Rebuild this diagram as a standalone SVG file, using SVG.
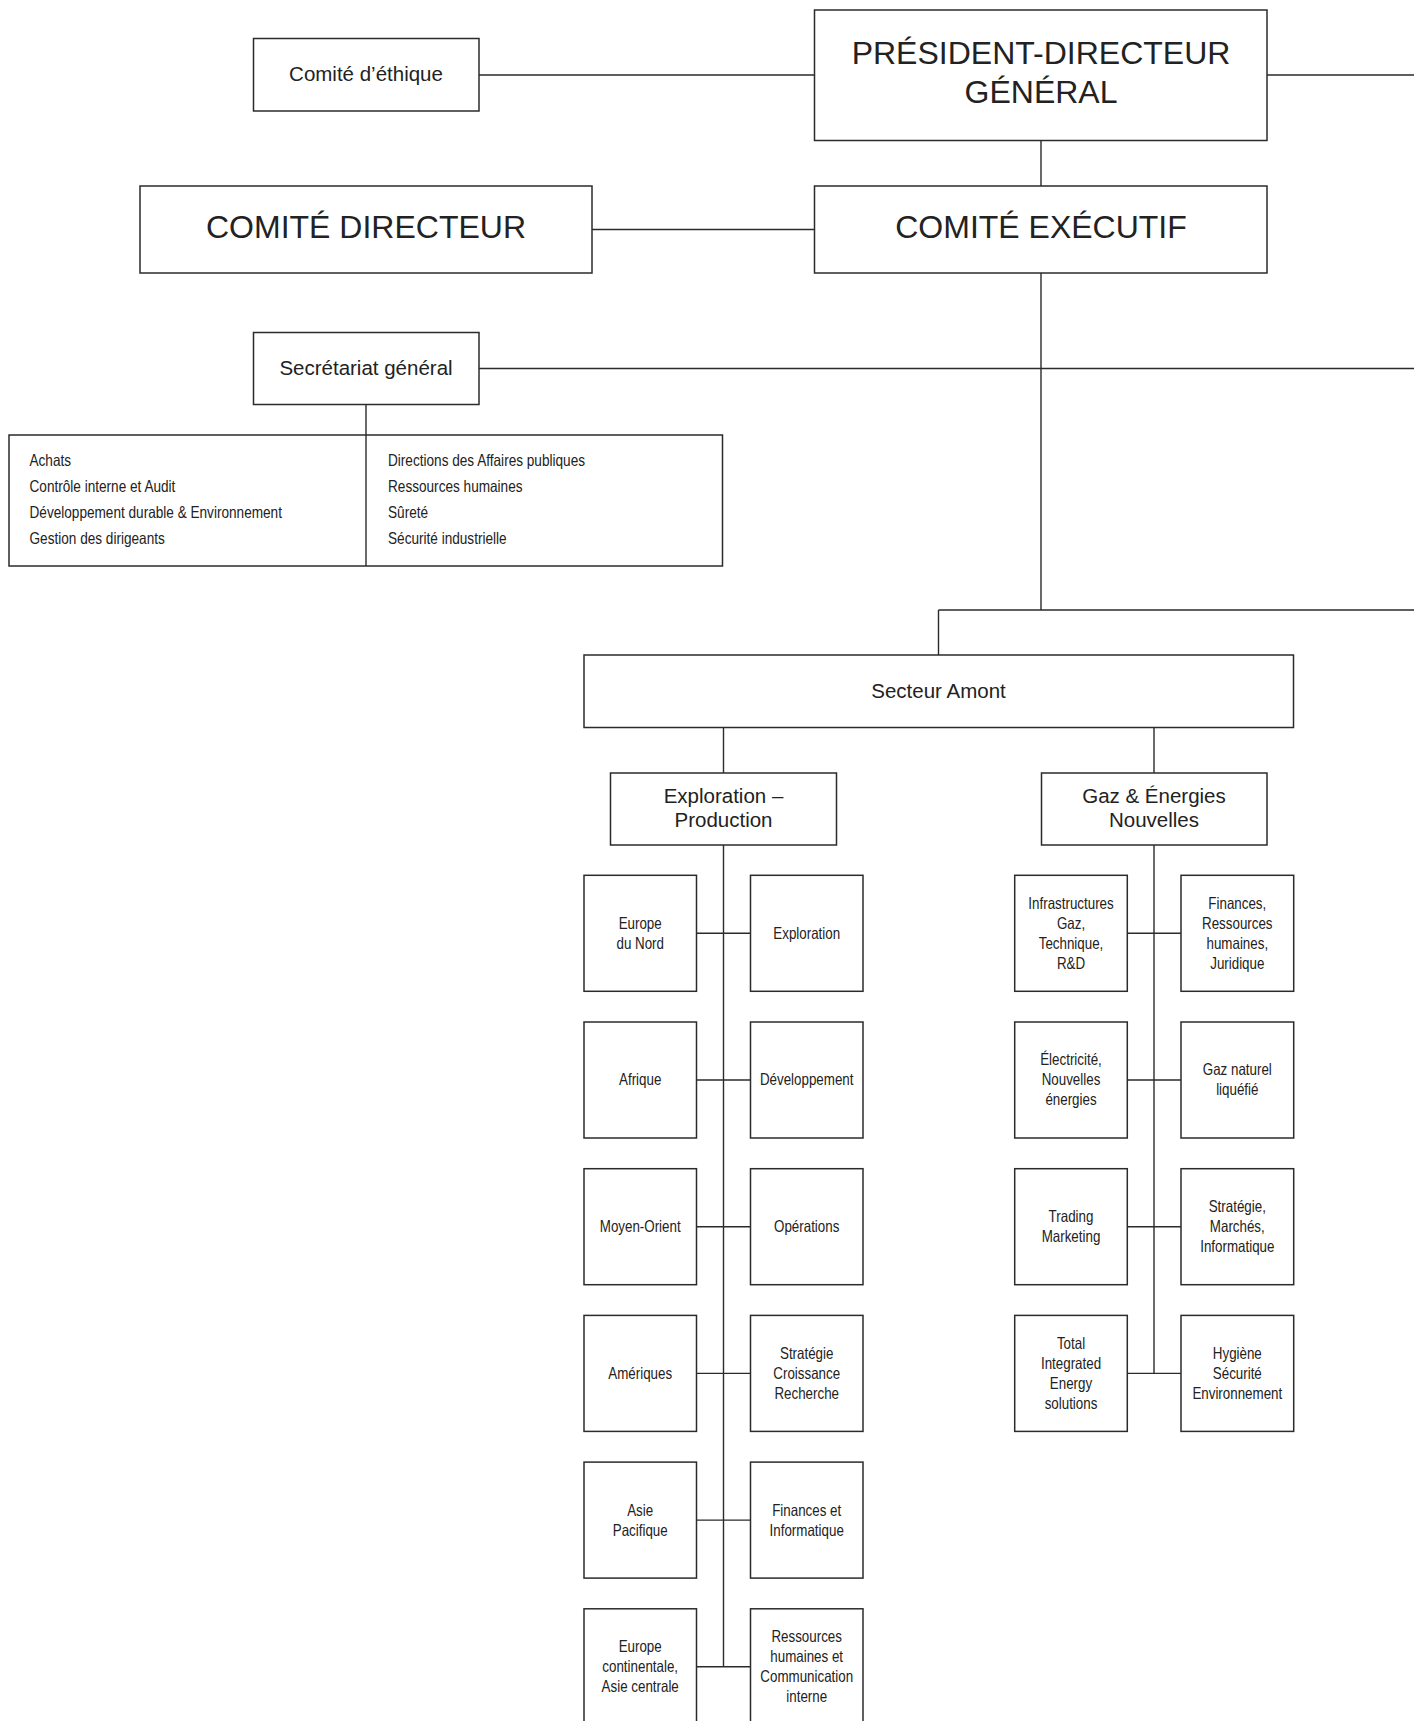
<svg xmlns="http://www.w3.org/2000/svg" width="1414" height="1721" viewBox="0 0 1414 1721">
<style>
.box{fill:#fff;stroke:#2b2b2b;stroke-width:1.5}
.ln{fill:none;stroke:#2b2b2b;stroke-width:1.4}
.t{font-family:"Liberation Sans",Arial,sans-serif;fill:#222;text-anchor:middle}
.big{font-size:32px}
.mid{font-size:20.5px}
.sm{font-family:"Liberation Sans",Arial,sans-serif;font-size:16.3px;fill:#222;text-anchor:middle}
.lst{font-family:"Liberation Sans",Arial,sans-serif;font-size:16.3px;fill:#222;text-anchor:start}
</style>
<rect x="0" y="0" width="1414" height="1721" fill="#fff"/>
<g id="connectors">
<path class="ln" d="M479 75H814.5M1267 75H1414M1041 140.5V186M592 229.5H814.5M1041 273V610M479 368.5H1414M366 404.5V566M938.5 610H1414M938.5 610V655M723.5 727.5V773M1154 727.5V773"/>
<path class="ln" d="M723.5 845V1666.8M696.5 933.3H750.5M696.5 1080H750.5M696.5 1226.7H750.5M696.5 1373.4H750.5M696.5 1520.1H750.5M696.5 1666.8H750.5"/>
<path class="ln" d="M1154 845V1373.4M1127.3 933.3H1181M1127.3 1080H1181M1127.3 1226.7H1181M1127.3 1373.4H1181"/>
</g>
<g id="pdg"><rect class="box" x="814.5" y="10" width="452.5" height="130.5"/><text class="t big" x="1041" y="63.5">PRÉSIDENT-DIRECTEUR</text><text class="t big" x="1041" y="103">GÉNÉRAL</text></g>
<g id="comite-executif"><rect class="box" x="814.5" y="186" width="452.5" height="87"/><text class="t big" x="1041" y="238">COMITÉ EXÉCUTIF</text></g>
<g id="comite-directeur"><rect class="box" x="140" y="186" width="452" height="87"/><text class="t big" x="366" y="238">COMITÉ DIRECTEUR</text></g>
<g id="comite-ethique"><rect class="box" x="253.5" y="38.5" width="225.5" height="72.5"/><text class="t mid" x="366" y="80.5">Comité d’éthique</text></g>
<g id="secretariat"><rect class="box" x="253.5" y="332.5" width="225.5" height="72"/><text class="t mid" x="366" y="374.5">Secrétariat général</text></g>
<g id="secretariat-list"><rect class="box" x="9" y="435" width="713.5" height="131"/>
<line class="ln" x1="366" y1="435" x2="366" y2="566"/>
<g transform="translate(29.5 0) scale(0.835 1)">
<text class="lst" x="0" y="466">Achats</text>
<text class="lst" x="0" y="492">Contrôle interne et Audit</text>
<text class="lst" x="0" y="518">Développement durable &amp; Environnement</text>
<text class="lst" x="0" y="544">Gestion des dirigeants</text>
</g>
<g transform="translate(388 0) scale(0.835 1)">
<text class="lst" x="0" y="466">Directions des Affaires publiques</text>
<text class="lst" x="0" y="492">Ressources humaines</text>
<text class="lst" x="0" y="518">Sûreté</text>
<text class="lst" x="0" y="544">Sécurité industrielle</text>
</g>
</g>
<g id="secteur-amont"><rect class="box" x="584" y="655" width="709.5" height="72.5"/><text class="t mid" x="938.5" y="697.5">Secteur Amont</text></g>
<g id="exploration-production"><rect class="box" x="610.5" y="773" width="226" height="72"/><text class="t mid" x="723.5" y="802.5">Exploration –</text><text class="t mid" x="723.5" y="826.5">Production</text></g>
<g id="gaz-energies"><rect class="box" x="1041.5" y="773" width="225.5" height="72"/><text class="t mid" x="1154" y="802.5">Gaz &amp; Énergies</text><text class="t mid" x="1154" y="826.5">Nouvelles</text></g>

<g id="ep-europe-nord"><rect class="box" x="584" y="875.3" width="112.5" height="116"/><g transform="translate(640.2 0) scale(0.82 1)"><text class="sm" x="0" y="928.8">Europe</text><text class="sm" x="0" y="948.8">du Nord</text></g></g>
<g id="ep-exploration"><rect class="box" x="750.5" y="875.3" width="112.5" height="116"/><g transform="translate(806.7 0) scale(0.82 1)"><text class="sm" x="0" y="938.8">Exploration</text></g></g>
<g id="ep-afrique"><rect class="box" x="584" y="1022" width="112.5" height="116"/><g transform="translate(640.2 0) scale(0.82 1)"><text class="sm" x="0" y="1085.5">Afrique</text></g></g>
<g id="ep-developpement"><rect class="box" x="750.5" y="1022" width="112.5" height="116"/><g transform="translate(806.7 0) scale(0.82 1)"><text class="sm" x="0" y="1085.5">Développement</text></g></g>
<g id="ep-moyen-orient"><rect class="box" x="584" y="1168.7" width="112.5" height="116"/><g transform="translate(640.2 0) scale(0.82 1)"><text class="sm" x="0" y="1232.2">Moyen-Orient</text></g></g>
<g id="ep-operations"><rect class="box" x="750.5" y="1168.7" width="112.5" height="116"/><g transform="translate(806.7 0) scale(0.82 1)"><text class="sm" x="0" y="1232.2">Opérations</text></g></g>
<g id="ep-ameriques"><rect class="box" x="584" y="1315.4" width="112.5" height="116"/><g transform="translate(640.2 0) scale(0.82 1)"><text class="sm" x="0" y="1378.9">Amériques</text></g></g>
<g id="ep-strategie"><rect class="box" x="750.5" y="1315.4" width="112.5" height="116"/><g transform="translate(806.7 0) scale(0.82 1)"><text class="sm" x="0" y="1358.9">Stratégie</text><text class="sm" x="0" y="1378.9">Croissance</text><text class="sm" x="0" y="1398.9">Recherche</text></g></g>
<g id="ep-asie-pacifique"><rect class="box" x="584" y="1462.1" width="112.5" height="116"/><g transform="translate(640.2 0) scale(0.82 1)"><text class="sm" x="0" y="1515.6">Asie</text><text class="sm" x="0" y="1535.6">Pacifique</text></g></g>
<g id="ep-finances"><rect class="box" x="750.5" y="1462.1" width="112.5" height="116"/><g transform="translate(806.7 0) scale(0.82 1)"><text class="sm" x="0" y="1515.6">Finances et</text><text class="sm" x="0" y="1535.6">Informatique</text></g></g>
<g id="ep-europe-continentale"><rect class="box" x="584" y="1608.8" width="112.5" height="116"/><g transform="translate(640.2 0) scale(0.82 1)"><text class="sm" x="0" y="1652.3">Europe</text><text class="sm" x="0" y="1672.3">continentale,</text><text class="sm" x="0" y="1692.3">Asie centrale</text></g></g>
<g id="ep-rh"><rect class="box" x="750.5" y="1608.8" width="112.5" height="116"/><g transform="translate(806.7 0) scale(0.82 1)"><text class="sm" x="0" y="1642.3">Ressources</text><text class="sm" x="0" y="1662.3">humaines et</text><text class="sm" x="0" y="1682.3">Communication</text><text class="sm" x="0" y="1702.3">interne</text></g></g>

<g id="gn-infrastructures"><rect class="box" x="1014.7" y="875.3" width="112.6" height="116"/><g transform="translate(1071 0) scale(0.82 1)"><text class="sm" x="0" y="908.8">Infrastructures</text><text class="sm" x="0" y="928.8">Gaz,</text><text class="sm" x="0" y="948.8">Technique,</text><text class="sm" x="0" y="968.8">R&amp;D</text></g></g>
<g id="gn-finances"><rect class="box" x="1181" y="875.3" width="112.7" height="116"/><g transform="translate(1237.3 0) scale(0.82 1)"><text class="sm" x="0" y="908.8">Finances,</text><text class="sm" x="0" y="928.8">Ressources</text><text class="sm" x="0" y="948.8">humaines,</text><text class="sm" x="0" y="968.8">Juridique</text></g></g>
<g id="gn-electricite"><rect class="box" x="1014.7" y="1022" width="112.6" height="116"/><g transform="translate(1071 0) scale(0.82 1)"><text class="sm" x="0" y="1065.5">Électricité,</text><text class="sm" x="0" y="1085.5">Nouvelles</text><text class="sm" x="0" y="1105.5">énergies</text></g></g>
<g id="gn-gnl"><rect class="box" x="1181" y="1022" width="112.7" height="116"/><g transform="translate(1237.3 0) scale(0.82 1)"><text class="sm" x="0" y="1075.5">Gaz naturel</text><text class="sm" x="0" y="1095.5">liquéfié</text></g></g>
<g id="gn-trading"><rect class="box" x="1014.7" y="1168.7" width="112.6" height="116"/><g transform="translate(1071 0) scale(0.82 1)"><text class="sm" x="0" y="1222.2">Trading</text><text class="sm" x="0" y="1242.2">Marketing</text></g></g>
<g id="gn-strategie"><rect class="box" x="1181" y="1168.7" width="112.7" height="116"/><g transform="translate(1237.3 0) scale(0.82 1)"><text class="sm" x="0" y="1212.2">Stratégie,</text><text class="sm" x="0" y="1232.2">Marchés,</text><text class="sm" x="0" y="1252.2">Informatique</text></g></g>
<g id="gn-ties"><rect class="box" x="1014.7" y="1315.4" width="112.6" height="116"/><g transform="translate(1071 0) scale(0.82 1)"><text class="sm" x="0" y="1348.9">Total</text><text class="sm" x="0" y="1368.9">Integrated</text><text class="sm" x="0" y="1388.9">Energy</text><text class="sm" x="0" y="1408.9">solutions</text></g></g>
<g id="gn-hse"><rect class="box" x="1181" y="1315.4" width="112.7" height="116"/><g transform="translate(1237.3 0) scale(0.82 1)"><text class="sm" x="0" y="1358.9">Hygiène</text><text class="sm" x="0" y="1378.9">Sécurité</text><text class="sm" x="0" y="1398.9">Environnement</text></g></g>
</svg>
